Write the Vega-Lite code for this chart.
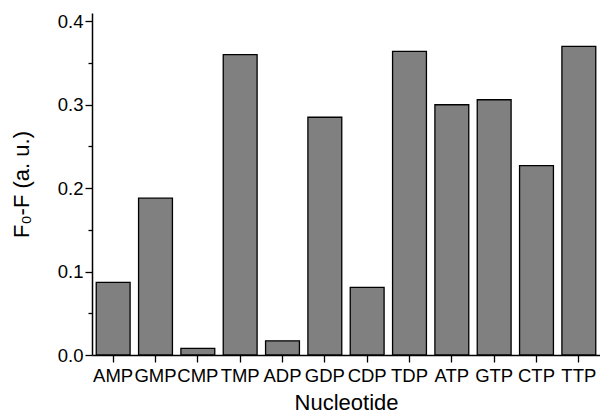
{
  "$schema": "https://vega.github.io/schema/vega-lite/v6.json",
  "autosize": {"type": "none"},
  "padding": {"left": 92, "top": 13, "right": 0, "bottom": 59},
  "width": 508,
  "height": 342,
  "background": "white",
  "config": {
    "view": {"stroke": null},
    "font": "Liberation Sans"
  },
  "data": {
    "values": [
      {"nucleotide": "AMP", "value": 0.087},
      {"nucleotide": "GMP", "value": 0.188},
      {"nucleotide": "CMP", "value": 0.008},
      {"nucleotide": "TMP", "value": 0.360},
      {"nucleotide": "ADP", "value": 0.017},
      {"nucleotide": "GDP", "value": 0.285},
      {"nucleotide": "CDP", "value": 0.081},
      {"nucleotide": "TDP", "value": 0.364},
      {"nucleotide": "ATP", "value": 0.300},
      {"nucleotide": "GTP", "value": 0.306},
      {"nucleotide": "CTP", "value": 0.227},
      {"nucleotide": "TTP", "value": 0.370}
    ]
  },
  "mark": {"type": "bar", "fill": "#808080", "stroke": "#000000", "strokeWidth": 1.3},
  "encoding": {
    "x": {
      "field": "nucleotide",
      "type": "nominal",
      "sort": null,
      "scale": {"paddingInner": 0.2, "paddingOuter": 0.1},
      "axis": {
        "title": "Nucleotide",
        "titleFontSize": 22,
        "titleFontWeight": "normal",
        "titleColor": "#000",
        "titlePadding": 8,
        "labelAngle": 0,
        "labelFontSize": 18.5,
        "labelColor": "#000",
        "labelPadding": 4,
        "tickSize": 7,
        "tickColor": "#000",
        "tickWidth": 1.3,
        "domainColor": "#000",
        "domainWidth": 1.5
      }
    },
    "y": {
      "field": "value",
      "type": "quantitative",
      "scale": {"domain": [0, 0.41], "nice": false},
      "axis": {
        "title": "F₀-F (a. u.)",
        "titleFontSize": 22,
        "titleFontWeight": "normal",
        "titleColor": "#000",
        "titlePadding": 24,
        "values": [0, 0.05, 0.1, 0.15, 0.2, 0.25, 0.3, 0.35, 0.4],
        "labelExpr": "round(datum.value*20)%2===0 ? format(datum.value,'.1f') : ''",
        "labelFontSize": 18.5,
        "labelColor": "#000",
        "labelPadding": 2,
        "tickSize": {"condition": {"test": "round(datum.value*20)%2===0", "value": 7}, "value": 4},
        "tickColor": "#000",
        "tickWidth": 1.3,
        "domainColor": "#000",
        "domainWidth": 1.5,
        "grid": false
      }
    }
  }
}
